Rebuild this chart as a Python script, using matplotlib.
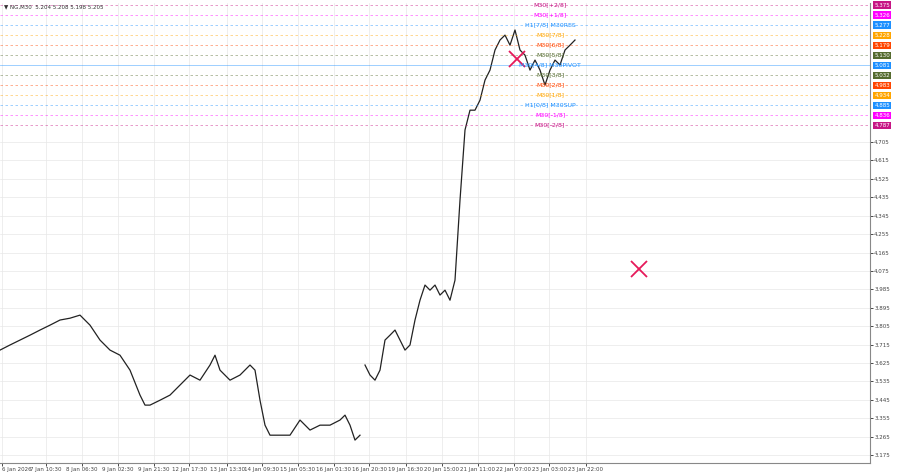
import matplotlib
matplotlib.use("Agg")
import matplotlib.pyplot as plt

bar_idx = [0,2,4,6,8,10,12,14,16,18,20,22,24,26,28,29,30,32,34,36,38,40,42,43,44,46,48,50,51,52,53,54,56,58,60,62,64,66,68,69,70,71,72,
           73,74,75,76,77,78,79,80,81,82,83,84,85,86,87,88,89,90,91,92,93,94,95,96,97,98,99,100,101,102,103,104,105,106,107,108,109,110,111,112,113,114,115]
prices = [3.688,3.713,3.737,3.761,3.786,3.810,3.835,3.844,3.859,3.810,3.737,3.688,3.663,3.590,3.468,3.419,3.419,3.443,3.468,3.517,3.566,3.541,3.615,3.663,3.590,3.541,3.566,3.615,3.590,3.443,3.321,3.272,3.272,3.272,3.346,3.297,3.321,3.321,3.346,3.370,3.321,3.248,3.272,
          3.615,3.566,3.541,3.590,3.737,3.761,3.786,3.737,3.688,3.713,3.835,3.932,4.006,3.981,4.006,3.957,3.981,3.932,4.030,4.421,4.764,4.861,4.861,4.910,5.008,5.057,5.155,5.204,5.228,5.179,5.253,5.155,5.130,5.057,5.106,5.057,4.984,5.057,5.106,5.082,5.155,5.179,5.204]
gap_after = 42  # index in list where segment ends (weekend gap)

level_prices = [5.375,5.326,5.277,5.228,5.179,5.130,5.081,5.032,4.983,4.934,4.885,4.836,4.787]
level_names = ["M30[+2/8]","M30[+1/8]","H1[7/8] M30RES","M30[7/8]","M30[6/8]","M30[5/8]","M30[4/8] M30PIVOT",
               "M30[3/8]","M30[2/8]","M30[1/8]","H1[0/8] M30SUP","M30[-1/8]","M30[-2/8]"]
level_colors = ["#c71585","#ff00ff","#1e90ff","#ffa500","#ff4500","#556b2f","#1e90ff",
                "#556b2f","#ff4500","#ffa500","#1e90ff","#ff00ff","#c71585"]

yticks = [3.175,3.265,3.355,3.445,3.535,3.625,3.715,3.805,3.895,3.985,4.075,4.165,4.255,4.345,4.435,4.525,4.615,4.705]
xtick_pos = [0.4,9.2,16.4,23.6,30.8,37.8,45.4,52.4,59.6,66.8,73.8,81.2,88.4,95.6,102.8,109.8,117.2]
xtick_labels = ["6 Jan 2026","7 Jan 10:30","8 Jan 06:30","9 Jan 02:30","9 Jan 21:30","12 Jan 17:30","13 Jan 13:30",
                "14 Jan 09:30","15 Jan 05:30","16 Jan 01:30","16 Jan 20:30","19 Jan 16:30","20 Jan 15:00",
                "21 Jan 11:00","22 Jan 07:00","23 Jan 03:00","23 Jan 22:00"]
cross_pts = [(103.4,5.112),(127.8,4.085)]

fig = plt.figure(figsize=(9,4.74), dpi=100)
ax = fig.add_axes([0.0, 11/474, 870/900, 460/474])
ax.set_xlim(0,174)
ax.set_ylim(3.136,5.385)
ax.plot(bar_idx[:gap_after+1], prices[:gap_after+1], color="#222", lw=0.9)
ax.plot(bar_idx[gap_after+1:], prices[gap_after+1:], color="#222", lw=0.9)
for p,n,c in zip(level_prices, level_names, level_colors):
    ls = "-" if "PIVOT" in n else (0,(3,3))
    ax.axhline(p, color=c, lw=0.6, ls=ls, alpha=0.5)
    ax.text(110, p, n, color=c, fontsize=4.5, ha="center", va="center")
    ax.text(1.005, p, f"{p:.3f}", transform=ax.get_yaxis_transform(), color="white", fontsize=4,
            va="center", ha="left", bbox=dict(boxstyle="square,pad=0.2", fc=c, ec="none"), clip_on=False)
for x,y in cross_pts:
    ax.plot(x,y,marker="x",color="#e6195a",ms=11,mew=1.3)
ax.yaxis.tick_right()
ax.set_yticks(yticks)
ax.set_yticklabels([f"{v:.3f}" for v in yticks], fontsize=4, color="#444")
ax.set_xticks(xtick_pos)
ax.set_xticklabels(xtick_labels, fontsize=4, color="#444")
ax.get_xticklabels()[0].set_ha("left")
ax.tick_params(length=2, pad=1, width=0.5)
ax.grid(True, color="#e8e8e8", lw=0.5)
for s in ["top","left"]:
    ax.spines[s].set_visible(False)
ax.spines["right"].set_color("#888"); ax.spines["bottom"].set_color("#888")
fig.text(0.005,0.99,"▼ NG,M30  5.204 5.208 5.198 5.205", fontsize=4, va="top", color="#333")
fig.savefig("out.png", dpi=100)
